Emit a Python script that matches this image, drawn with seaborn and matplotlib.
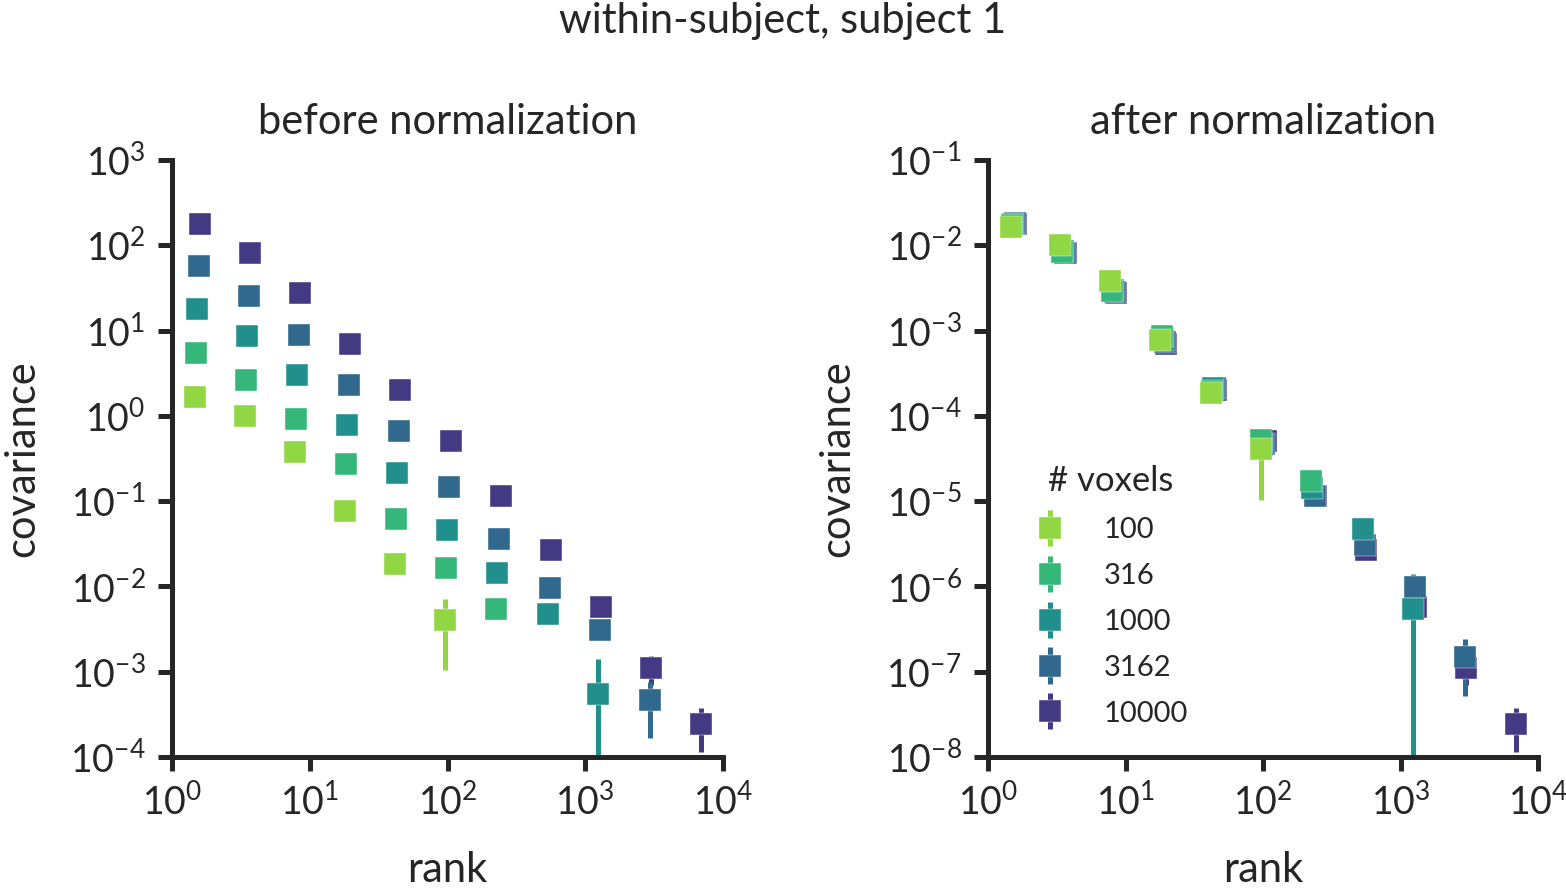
import matplotlib
matplotlib.use("Agg")
import matplotlib.pyplot as plt
from matplotlib.ticker import NullLocator, LogLocator
from matplotlib.legend_handler import HandlerErrorbar
import seaborn as sns

# number of voxels per series
n_voxels = [100, 316, 1000, 3162, 10000]

# rank bins (x), one list per series
rank_100 = [1.47, 3.36, 7.75, 17.9, 41.6, 95.9]
rank_316 = [1.49, 3.44, 7.94, 18.3, 42.3, 97.5, 225]
rank_1000 = [1.52, 3.50, 8.08, 18.6, 43.0, 99.1, 229, 537, 1238]
rank_3162 = [1.57, 3.62, 8.36, 19.3, 44.4, 102, 237, 555, 1280, 2951]
rank_10000 = [1.60, 3.68, 8.5, 19.6, 45.2, 106, 244, 564, 1301, 3000, 6918]

# covariance before normalization
cov_100 = [1.66, 1.0, 0.377, 0.0767, 0.0183, 0.00404]
cov_316 = [5.46, 2.64, 0.918, 0.273, 0.0618, 0.0165, 0.00544]
cov_1000 = [17.9, 8.63, 3.01, 0.781, 0.214, 0.0459, 0.0144, 0.00475, 0.000548]
cov_3162 = [57.2, 25.4, 8.87, 2.30, 0.665, 0.1466, 0.036, 0.0096, 0.00308, 0.000466]
cov_10000 = [178, 81.3, 27.6, 6.97, 2.01, 0.507, 0.115, 0.0267, 0.00574, 0.00111, 0.000244]

# error bars (only the visible ones are non-zero)
err_100 = [0, 0, 0, 0, 0, 0.0030]
err_316 = [0, 0, 0, 0, 0, 0, 0]
err_1000 = [0, 0, 0, 0, 0, 0, 0, 0, 0.00086]
err_3162 = [0, 0, 0, 0, 0, 0, 0, 0, 0, 0.0003]
err_10000 = [0, 0, 0, 0, 0, 0, 0, 0, 0, 0.00042, 0.00013]

ranks = [rank_100, rank_316, rank_1000, rank_3162, rank_10000]
covs = [cov_100, cov_316, cov_1000, cov_3162, cov_10000]
errs = [err_100, err_316, err_1000, err_3162, err_10000]

sns.set_theme(style="ticks")
plt.rcParams["font.family"] = ["Lato", "DejaVu Sans"]
plt.rcParams["mathtext.fontset"] = "custom"
plt.rcParams["mathtext.rm"] = "Lato"
plt.rcParams["mathtext.it"] = "Lato:italic"
plt.rcParams["mathtext.bf"] = "Lato:bold"

colors = sns.color_palette("viridis_r", 5)
fs = 30
dark = "#262626"

fig = plt.figure(figsize=(15.66, 8.96), dpi=100)
ax1 = fig.add_axes([172 / 1566, 1 - 757 / 896, 551 / 1566, 597 / 896])
ax2 = fig.add_axes([988 / 1566, 1 - 757 / 896, 550 / 1566, 597 / 896])

# draw largest first so 100 voxels ends up on top
for i in reversed(range(5)):
    n = n_voxels[i]
    ax1.errorbar(ranks[i], covs[i], yerr=errs[i], fmt="s", color=colors[i],
                 ms=16, mec="white", mew=0.3, elinewidth=3.6, capsize=0)
    ax2.errorbar(ranks[i], [c / n for c in covs[i]], yerr=[e / n for e in errs[i]],
                 fmt="s", color=colors[i], ms=16, mec="white", mew=0.3,
                 elinewidth=3.6, capsize=0, label=str(n))

for ax, title, ylim, ylab_x in [(ax1, "before normalization", (1e-4, 1e3), -0.238),
                                (ax2, "after normalization", (1e-8, 1e-1), -0.240)]:
    ax.set_xscale("log")
    ax.set_yscale("log")
    ax.set_xlim(1, 1e4)
    ax.set_ylim(*ylim)
    ax.xaxis.set_major_locator(LogLocator(base=10, numticks=20))
    ax.yaxis.set_major_locator(LogLocator(base=10, numticks=20))
    ax.xaxis.set_minor_locator(NullLocator())
    ax.yaxis.set_minor_locator(NullLocator())
    ax.set_title(title, fontsize=fs, pad=19, color=dark)
    ax.set_xlabel("rank", fontsize=fs)
    ax.set_ylabel("covariance", fontsize=fs)
    ax.xaxis.set_label_coords(0.5, -0.158)
    ax.yaxis.set_label_coords(ylab_x, 0.5)
    ax.tick_params(labelsize=27, width=3.6, length=10, pad=9, color=dark)
    for s in ["left", "bottom"]:
        ax.spines[s].set_linewidth(3.6)
        ax.spines[s].set_color(dark)
    sns.despine(ax=ax)

handles, labels = ax2.get_legend_handles_labels()
leg = ax2.legend(handles[::-1], labels[::-1], title="# voxels", frameon=False,
                 loc="lower left", bbox_to_anchor=(0.033, 0.007), fontsize=21,
                 title_fontsize=25, handlelength=1.2, handletextpad=1.25,
                 labelspacing=0.68,
                 handler_map={type(handles[0]): HandlerErrorbar(yerr_size=0.62)})

fig.suptitle("within-subject, subject 1", fontsize=fs, y=0.998, color=dark)
fig.savefig("out.png", dpi=100)
